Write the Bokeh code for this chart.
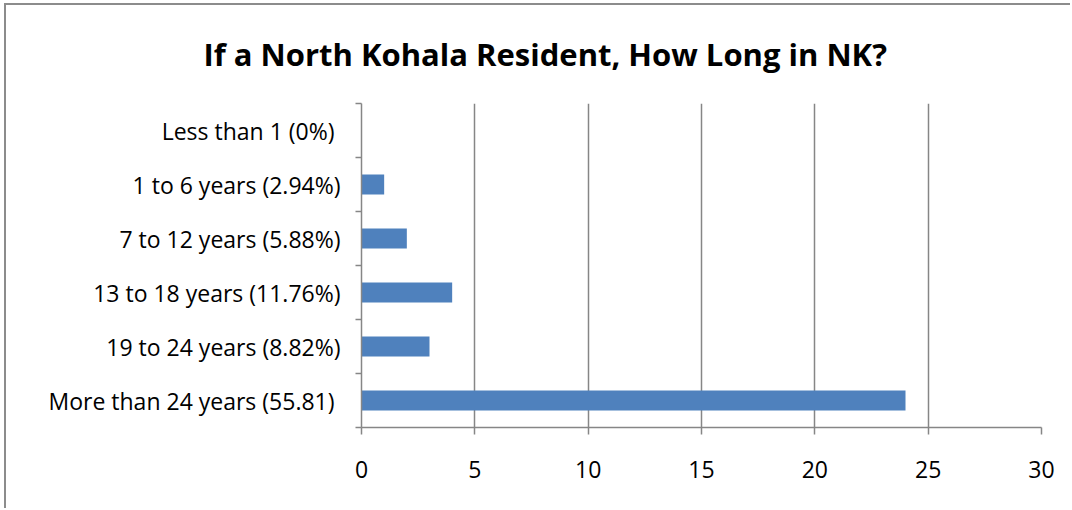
from bokeh.plotting import figure
from bokeh.models import FixedTicker, Range1d
from bokeh.embed import file_html
from bokeh.resources import INLINE

categories = ["Less than 1  (0%)", "1 to 6 years (2.94%)", "7 to 12 years (5.88%)",
              "13 to 18 years (11.76%)", "19 to 24 years (8.82%)", "More than  24 years (55.81)"]
counts = [0, 1, 2, 4, 3, 24]
x_ticks = [0, 5, 10, 15, 20, 25, 30]
title_text = "If a North Kohala Resident, How Long in NK?"

n = len(categories)
ypos = [n - i - 0.5 for i in range(n)]

FONT = "Open Sans"
GREY = "#868686"

p = figure(width=1066, height=505, output_backend="svg", toolbar_location=None,
           x_range=Range1d(0, 30), y_range=Range1d(0, n),
           min_border_left=355, min_border_right=31, min_border_top=98, min_border_bottom=83,
           styles={"border-top": "2px solid #8c8c8c", "border-left": "2px solid #8c8c8c",
                   "margin-left": "4px", "margin-top": "3px"})
p.outline_line_color = None
p.background_fill_color = "white"
p.border_fill_color = "white"

p.hbar(y=ypos, right=counts, left=0, height=0.37, fill_color="#4F81BD", line_color=None)

p.title.text = title_text
p.title.text_font = FONT
p.title.text_font_size = "31px"
p.title.text_font_style = "bold"
p.title.text_color = "black"
p.title.align = "left"
p.title.vertical_align = "top"
p.title.offset = -158
p.title.standoff = 54

# x axis
p.xaxis.ticker = FixedTicker(ticks=x_ticks)
p.xaxis.axis_line_color = GREY
p.xaxis.axis_line_width = 1.5
p.xaxis.major_tick_line_color = GREY
p.xaxis.major_tick_line_width = 1.5
p.xaxis.major_tick_in = 0
p.xaxis.major_tick_out = 7
p.xaxis.minor_tick_line_color = None
p.xaxis.major_label_text_font = FONT
p.xaxis.major_label_text_font_size = "23px"
p.xaxis.major_label_text_color = "black"
p.xaxis.major_label_standoff = 26

# y axis
p.yaxis.ticker = FixedTicker(ticks=ypos, minor_ticks=list(range(n + 1)))
p.yaxis.major_label_overrides = {y: c for y, c in zip(ypos, categories)}
p.yaxis.axis_line_color = GREY
p.yaxis.axis_line_width = 1.5
p.yaxis.major_tick_line_color = None
p.yaxis.major_tick_out = 6
p.yaxis.minor_tick_line_color = GREY
p.yaxis.minor_tick_line_width = 1.5
p.yaxis.minor_tick_in = 0
p.yaxis.minor_tick_out = 6
p.yaxis.major_label_text_font = FONT
p.yaxis.major_label_text_font_size = "23px"
p.yaxis.major_label_text_color = "black"
p.yaxis.major_label_standoff = 15

p.xgrid.grid_line_color = GREY
p.xgrid.grid_line_width = 1.5
p.ygrid.grid_line_color = None

open("out.html", "w").write(file_html(p, INLINE))
